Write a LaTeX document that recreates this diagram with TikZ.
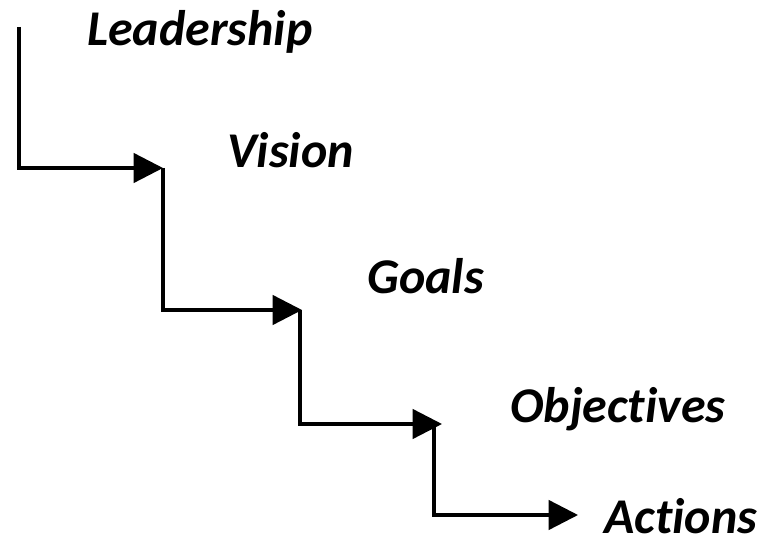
\documentclass[tikz,border=0pt]{standalone}
\usepackage{fontspec}
\setmainfont[Ligatures=NoCommon]{Carlito}
\usetikzlibrary{arrows.meta}

\tikzset{
  stage/.style={anchor=base west,inner sep=0pt,font=\fontsize{37.5}{42}\selectfont\bfseries\itshape},
  stair/.style={line width=2.5pt,-{Triangle[length=22pt,width=22pt]}}
}

\begin{document}
\begin{tikzpicture}[x=0.75pt,y=-0.75pt]
\useasboundingbox (0,0) rectangle (759,548);
%
% etapas
\node[stage] (lead) at (87,46)  {Leadership};
\node[stage] (vis)  at (227,168) {Vision};
\node[stage] (goal) at (367,294) {Goals};
\node[stage] (obj)  at (510,422) {Object\kern0pt ives};
\node[stage] (act)  at (604,533) {Actions};
%
% escalones
\coordinate (s0) at (19,27);
\coordinate (s1) at (163,168);
\coordinate (s2) at (302,310);
\coordinate (s3) at (442,424);
\coordinate (s4) at (578,515);
\draw[stair] (s0) |- (s1);
\draw[stair] (s1) |- (s2);
\draw[stair] ([xshift=-1.5pt]s2) |- (s3);
\draw[stair] ([xshift=-6pt]s3) |- (s4);
\end{tikzpicture}
\end{document}
